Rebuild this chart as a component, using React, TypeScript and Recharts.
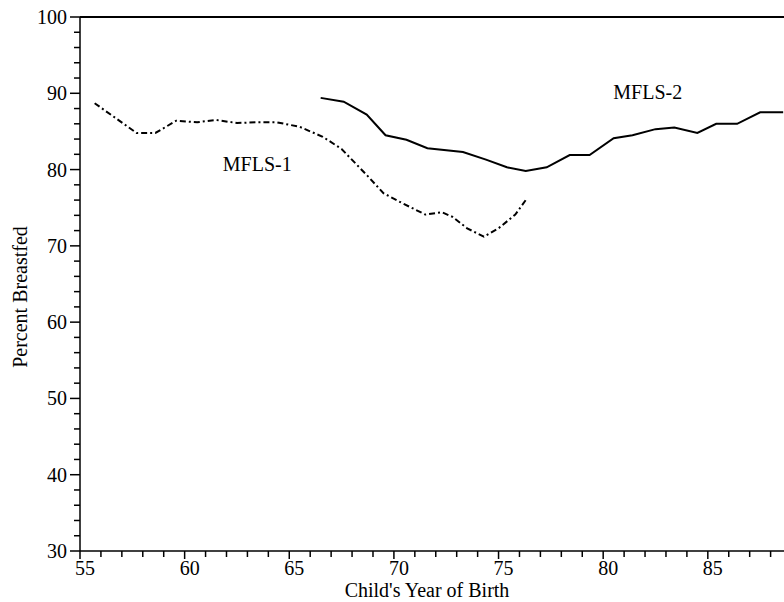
import React from "react";
import {
  LineChart,
  Line,
  XAxis,
  YAxis,
  ReferenceLine,
  ReferenceDot,
} from "recharts";

// Breastfeeding by child's year of birth, two survey rounds
const mfls1Years = [
  55.7, 57.7, 58.6, 59.6, 60.6, 61.5, 62.5, 63.4, 64.4, 65.5, 66.6, 67.5,
  68.8, 69.5, 70.4, 71.5, 72.3, 72.8, 73.5, 74.3, 75.0, 75.8, 76.3,
];
const mfls1Pct = [
  88.7, 84.8, 84.8, 86.4, 86.2, 86.5, 86.1, 86.2, 86.2, 85.6, 84.3, 82.7,
  79.0, 76.9, 75.6, 74.1, 74.4, 73.8, 72.3, 71.2, 72.3, 74.1, 76.0,
];

const mfls2Years = [
  66.5, 67.6, 68.7, 69.6, 70.6, 71.6, 73.3, 74.4, 75.4, 76.3, 77.3, 78.4,
  79.35, 80.5, 81.4, 82.5, 83.4, 84.5, 85.4, 86.4, 87.5, 88.6,
];
const mfls2Pct = [
  89.4, 88.9, 87.2, 84.5, 83.9, 82.8, 82.3, 81.3, 80.3, 79.8, 80.3, 81.9,
  81.9, 84.1, 84.5, 85.3, 85.5, 84.8, 86.0, 86.0, 87.5, 87.5,
];

const xMajor = [55, 60, 65, 70, 75, 80, 85];
const xTicks = Array.from({ length: 34 }, (_, i) => 55 + i);
const yMajor = [30, 40, 50, 60, 70, 80, 90, 100];
const yTicks = Array.from({ length: 36 }, (_, i) => 30 + i * 2);

const FONT = '"Liberation Serif", "Times New Roman", serif';
const textStyle = { fontFamily: FONT };

const mfls1 = mfls1Years.map((year, i) => ({ year, pct: mfls1Pct[i] }));
const mfls2 = mfls2Years.map((year, i) => ({ year, pct: mfls2Pct[i] }));

// x ticks: one per year, labels on every fifth
function XTick({ x, y, payload }: any) {
  const major = xMajor.includes(payload.value);
  return (
    <g>
      <line x1={x} x2={x} y1={y} y2={y + (major ? 8 : 6)} stroke="#000" strokeWidth={1.5} />
      {major && (
        <text x={x + 5} y={y + 24} textAnchor="middle" fontSize={20} style={textStyle} fill="#000">
          {payload.value}
        </text>
      )}
    </g>
  );
}

// y ticks: minor every 2, labels every 10
function YTick({ x, y, payload }: any) {
  const major = yMajor.includes(payload.value);
  return (
    <g>
      <line x1={x - (major ? 10 : 6)} x2={x} y1={y} y2={y} stroke="#000" strokeWidth={1.5} />
      {major && (
        <text x={x - 13} y={y + 7} textAnchor="end" fontSize={20} style={textStyle} fill="#000">
          {payload.value}
        </text>
      )}
    </g>
  );
}

export default function App() {
  return (
    <div style={{ position: "absolute", left: 0, top: 0, background: "#fff" }}>
      <LineChart
        width={784}
        height={602}
        margin={{ top: 17, right: 0, bottom: 0, left: 0 }}
      >
        <XAxis
          dataKey="year"
          type="number"
          domain={[55, 88.64]}
          allowDataOverflow
          ticks={xTicks}
          interval={0}
          tickSize={0}
          tickMargin={0}
          tickLine={false}
          tick={<XTick />}
          axisLine={{ stroke: "#000", strokeWidth: 1.5 }}
          height={51}
          label={{
            value: "Child's Year of Birth",
            position: "insideBottom",
            offset: 5,
            fontSize: 20,
            style: textStyle,
            fill: "#000",
            dx: -5,
          }}
        />
        <YAxis
          dataKey="pct"
          type="number"
          domain={[30, 100]}
          ticks={yTicks}
          interval={0}
          tickSize={0}
          tickMargin={0}
          tickLine={false}
          tick={<YTick />}
          axisLine={{ stroke: "#000", strokeWidth: 1.5 }}
          width={80}
          label={{
            value: "Percent Breastfed",
            angle: -90,
            position: "insideLeft",
            offset: 20,
            fontSize: 20,
            style: { ...textStyle, textAnchor: "middle" },
            textAnchor: "middle",
            fill: "#000",
            dy: 13,
          }}
        />
        <ReferenceLine y={100} stroke="#000" strokeWidth={2} />
        <Line
          data={mfls1}
          dataKey="pct"
          stroke="#000"
          strokeWidth={2}
          strokeDasharray="6 3 2 3"
          dot={false}
          isAnimationActive={false}
        />
        <Line
          data={mfls2}
          dataKey="pct"
          stroke="#000"
          strokeWidth={2}
          dot={false}
          isAnimationActive={false}
        />
        <ReferenceDot
          x={63.47}
          y={80.7}
          r={0}
          stroke="none"
          fill="none"
          label={{ value: "MFLS-1", position: "center", fontSize: 20, style: textStyle, fill: "#000" }}
        />
        <ReferenceDot
          x={82.13}
          y={90.2}
          r={0}
          stroke="none"
          fill="none"
          label={{ value: "MFLS-2", position: "center", fontSize: 20, style: textStyle, fill: "#000" }}
        />
      </LineChart>
    </div>
  );
}
